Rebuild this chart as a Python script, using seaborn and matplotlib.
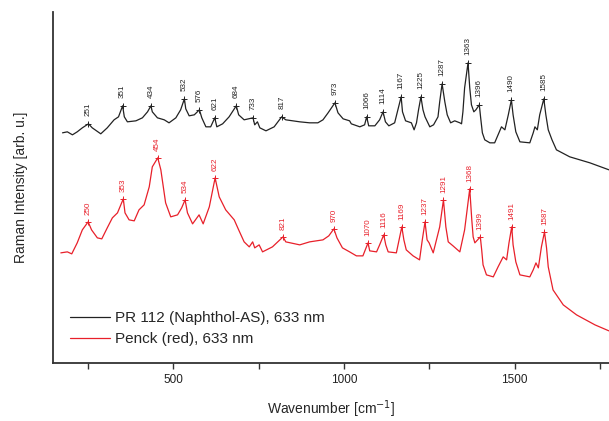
import numpy as np
import pandas as pd
import matplotlib
matplotlib.use("Agg")
import matplotlib.pyplot as plt
import seaborn as sns
from matplotlib.ticker import FixedLocator

# ---- data (wavenumber in cm^-1, intensity in arbitrary units) ----
black_wn = [175, 189, 204, 218, 233, 251, 262, 287, 306, 326, 339, 351, 356, 365, 390, 409,
            424, 434, 438, 453, 473, 487, 507, 521, 532, 536, 546, 561, 576, 583, 595, 609,
            621, 627, 644, 663, 684, 691, 707, 733, 738, 746, 753, 771, 795, 817, 829, 870,
            899, 923, 938, 953, 973, 982, 997, 1016, 1021, 1046, 1060, 1066, 1072, 1090,
            1104, 1114, 1121, 1131, 1148, 1156, 1167, 1171, 1180, 1197, 1205, 1212, 1218,
            1225, 1231, 1237, 1251, 1262, 1275, 1280, 1287, 1295, 1302, 1312, 1324, 1339,
            1344, 1348, 1353, 1363, 1368, 1373, 1380, 1386, 1396, 1400, 1405, 1412, 1427,
            1441, 1451, 1461, 1471, 1481, 1490, 1495, 1503, 1515, 1544, 1554, 1559, 1566,
            1573, 1585, 1591, 1598, 1609, 1622, 1661, 1720, 1776]
black_int = [230, 231, 228, 231, 235, 239, 235, 229, 235, 243, 246, 257, 246, 241, 242, 245,
             251, 257, 251, 245, 243, 240, 245, 253, 264, 254, 247, 248, 253, 245, 236, 236,
             245, 236, 239, 246, 257, 248, 243, 245, 238, 241, 235, 232, 236, 246, 243, 241,
             240, 240, 243, 250, 260, 250, 244, 242, 239, 236, 238, 246, 237, 237,
             243, 251, 241, 237, 240, 251, 266, 251, 242, 240, 233, 240, 253,
             266, 253, 246, 236, 238, 246, 261, 279, 261, 248, 240, 242, 240,
             239, 251, 275, 300, 275, 258, 251, 253, 258, 245, 230, 223, 220,
             220, 228, 236, 233, 248, 263, 248, 231, 221, 220, 230, 236, 233,
             248, 264, 248, 233, 223, 213, 206, 200, 193]

red_wn = [170, 189, 202, 218, 233, 250, 260, 277, 290, 306, 321, 336, 353, 358, 370, 385,
          399, 414, 429, 438, 454, 463, 477, 492, 512, 524, 534, 541, 556, 575, 587, 605,
          622, 634, 653, 678, 691, 707, 722, 732, 738, 751, 761, 790, 821, 829, 870, 899,
          938, 955, 970, 979, 995, 1016, 1036, 1055, 1070, 1075, 1095, 1104, 1116, 1122,
          1129, 1153, 1161, 1169, 1175, 1182, 1202, 1221, 1229, 1237, 1243, 1249, 1261,
          1280, 1291, 1298, 1305, 1319, 1339, 1353, 1368, 1374, 1378, 1383, 1399, 1403,
          1407, 1417, 1437, 1451, 1466, 1476, 1483, 1491, 1495, 1503, 1515, 1544, 1554,
          1562, 1569, 1578, 1587, 1593, 1598, 1612, 1642, 1681, 1735, 1776]
red_int = [110, 111, 109, 120, 133, 141, 133, 125, 124, 135, 145, 150, 164, 150, 143, 142,
           153, 158, 176, 196, 205, 193, 160, 146, 148, 155, 163, 150, 139, 148, 139, 156,
           185, 166, 153, 143, 133, 121, 116, 121, 115, 118, 111, 116, 126, 121, 118, 121,
           123, 127, 134, 125, 115, 111, 107, 107, 120, 112, 111, 118, 128, 118,
           111, 110, 123, 136, 123, 113, 107, 103, 123, 141, 123, 120, 110,
           136, 163, 136, 121, 117, 111, 133, 174, 143, 126, 120, 126, 113,
           98, 88, 86, 96, 106, 103, 120, 136, 118, 101, 88, 86, 93,
           100, 95, 116, 131, 115, 96, 73, 58, 48, 38, 32]

black_peaks = [251, 351, 434, 532, 576, 621, 684, 733, 817, 973, 1066, 1114, 1167, 1225,
               1287, 1363, 1396, 1490, 1585]
red_peaks = [250, 353, 454, 534, 622, 821, 970, 1070, 1116, 1169, 1237, 1291, 1368, 1399,
             1491, 1587]

black_label = "PR 112 (Naphthol-AS), 633 nm"
red_label = "Penck (red), 633 nm"
x_major = [500, 1000, 1500]
x_minor = [250, 750, 1250, 1750]

BLACK = "#222222"
RED = "#e8202a"

sns.set_style("ticks")
plt.rcParams["font.family"] = ["Liberation Sans", "DejaVu Sans"]

fig = plt.figure(figsize=(6.09, 4.21), dpi=100)
ax = fig.add_axes([0.087, 0.138, 0.913, 0.834])

df_b = pd.DataFrame({"wn": black_wn, "I": black_int})
df_r = pd.DataFrame({"wn": red_wn, "I": red_int})

sns.lineplot(data=df_b, x="wn", y="I", color=BLACK, linewidth=0.9, label=black_label, ax=ax)
sns.lineplot(data=df_r, x="wn", y="I", color=RED, linewidth=0.9, label=red_label, ax=ax)

bp_int = np.interp(black_peaks, black_wn, black_int)
rp_int = np.interp(red_peaks, red_wn, red_int)
sns.scatterplot(x=black_peaks, y=bp_int, marker="+", s=20, linewidth=0.7, color=BLACK,
                legend=False, ax=ax)
sns.scatterplot(x=red_peaks, y=rp_int, marker="+", s=20, linewidth=0.7, color=RED,
                legend=False, ax=ax)

for p, v in zip(black_peaks, bp_int):
    ax.text(p, v + 8, str(p), rotation=90, ha="center", va="bottom", fontsize=5.8, color=BLACK)
for p, v in zip(red_peaks, rp_int):
    ax.text(p, v + 7, str(p), rotation=90, ha="center", va="bottom", fontsize=5.8, color=RED)

ax.set_xlim(147, 1776)
ax.set_ylim(0, 351)
ax.xaxis.set_major_locator(FixedLocator(x_major))
ax.xaxis.set_minor_locator(FixedLocator(x_minor))
ax.tick_params(axis="x", which="both", direction="out", length=4, width=1, colors="#333333",
               labelsize=8.5, labelcolor="#222222", pad=4)
ax.set_yticks([])
for s in ["top", "right"]:
    ax.spines[s].set_visible(False)
for s in ["left", "bottom"]:
    ax.spines[s].set_color("#333333")
    ax.spines[s].set_linewidth(1.3)

ax.set_xlabel("Wavenumber [cm$^{-1}$]", fontsize=10, labelpad=9)
ax.set_ylabel("Raman Intensity [arb. u.]", fontsize=10, labelpad=18)

leg = ax.legend(loc="lower left", bbox_to_anchor=(0.02, 0.03), frameon=False, fontsize=11,
                handlelength=2.6, handletextpad=0.3, labelspacing=0.45, borderaxespad=0)
for line in leg.get_lines():
    line.set_linewidth(0.9)

fig.savefig("out.png", dpi=100)
